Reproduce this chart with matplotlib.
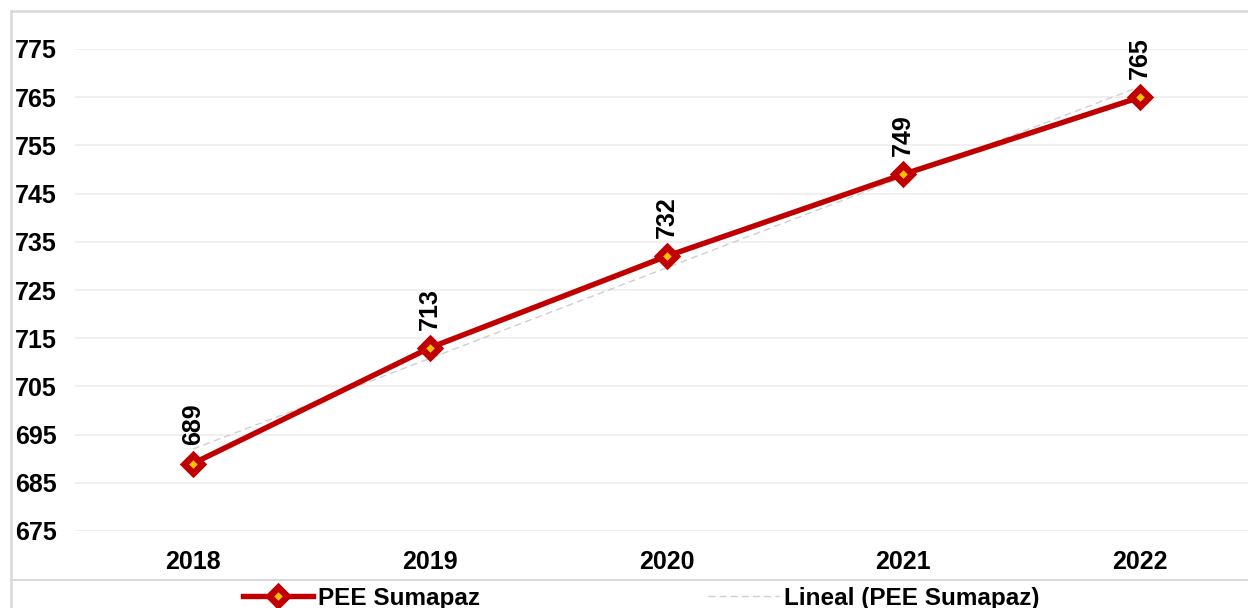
import numpy as np
import matplotlib
matplotlib.use("Agg")
import matplotlib.pyplot as plt
from matplotlib.lines import Line2D

years = ["2018", "2019", "2020", "2021", "2022"]
values = [689, 713, 732, 749, 765]
yticks = [675, 685, 695, 705, 715, 725, 735, 745, 755, 765, 775]
series_name = "PEE Sumapaz"
trend_name = "Lineal (PEE Sumapaz)"

plt.rcParams['font.family'] = ['Liberation Sans', 'DejaVu Sans']
plt.rcParams['font.weight'] = 'bold'

W, H = 1248, 608
fig = plt.figure(figsize=(W / 100, H / 100), dpi=100)
fig.patch.set_facecolor('white')

left_px, right_px = 74.5, 1258.5
top_px, bot_px = 49, 531
ax = fig.add_axes([left_px / W, 1 - bot_px / H, (right_px - left_px) / W, (bot_px - top_px) / H])

x = np.arange(len(years))
red = '#C00000'
gold = '#FFC000'

# trend line (linear fit)
coef = np.polyfit(x, values, 1)
trend = np.polyval(coef, x)
ax.plot(x, trend, color='#CFCFCF', lw=1.0, ls=(0, (5, 3)), zorder=2)

ax.plot(x, values, color=red, lw=3.9, marker='D', markersize=9.5,
        markerfacecolor=gold, markeredgecolor=red, markeredgewidth=4.8,
        solid_joinstyle='round', zorder=3)

for xi, v in zip(x, values):
    ax.annotate(str(v), (xi, v), xytext=(0, 13), textcoords='offset points',
                rotation=90, ha='center', va='bottom', fontsize=18, fontweight='bold',
                color='black')

ax.set_xlim(-0.5, len(years) - 0.5)
ax.set_ylim(675, 775)
ax.set_yticks(yticks)
ax.set_xticks(x)
ax.set_xticklabels(years)
ax.tick_params(axis='both', length=0, labelsize=18)
ax.tick_params(axis='y', pad=43)
for lab in ax.get_yticklabels():
    lab.set_horizontalalignment('left')
ax.tick_params(axis='x', pad=14)
ax.yaxis.grid(True, color='#EEEEEE', lw=1.2)
ax.set_axisbelow(True)
for s in ax.spines.values():
    s.set_visible(False)
ax.set_facecolor('none')

# frame lines
fc = '#D9D9D9'
fig.add_artist(Line2D([11 / W, 11 / W], [0, 1 - 11 / H], color=fc, lw=1.8, transform=fig.transFigure))
fig.add_artist(Line2D([11 / W, 1], [1 - 11 / H, 1 - 11 / H], color=fc, lw=1.8, transform=fig.transFigure))
fig.add_artist(Line2D([11 / W, 1], [1 - 580 / H, 1 - 580 / H], color=fc, lw=1.5, transform=fig.transFigure))

h1 = Line2D([], [], color=red, lw=3.9, marker='D', markersize=9.5,
            markerfacecolor=gold, markeredgecolor=red, markeredgewidth=4.8)
h2 = Line2D([], [], color='#CFCFCF', lw=1.0, ls=(0, (5, 3)))
fig.legend([h1, h2], [series_name, trend_name], loc='center',
           bbox_to_anchor=(641 / W, 1 - 598 / H), ncol=2, frameon=False,
           prop={'size': 17.5, 'weight': 'bold'}, handlelength=2.9,
           handletextpad=0.2, columnspacing=9.4, borderpad=0)

fig.savefig('out.png', dpi=100)
